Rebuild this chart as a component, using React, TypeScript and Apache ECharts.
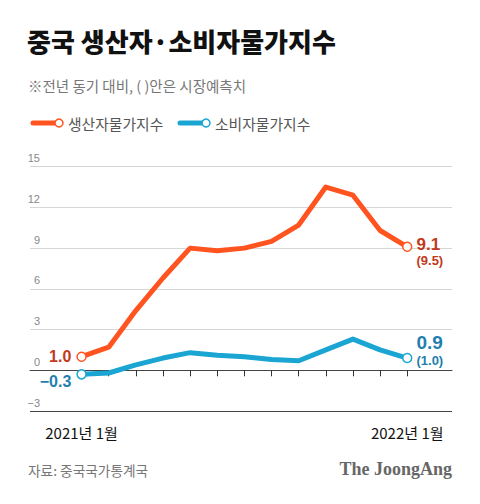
import React, { useEffect, useRef } from "react";
import * as echarts from "echarts";

const months = [0, 1, 2, 3, 4, 5, 6, 7, 8, 9, 10, 11, 12];
const ppi = [1.0, 1.7, 4.4, 6.8, 9.0, 8.8, 9.0, 9.5, 10.7, 13.5, 12.9, 10.3, 9.1];
const cpi = [-0.3, -0.2, 0.4, 0.9, 1.3, 1.1, 1.0, 0.8, 0.7, 1.5, 2.3, 1.5, 0.9];
const ppiForecast = "(9.5)";
const cpiForecast = "(1.0)";
const xTickLabels = ["2021년 1월", "2022년 1월"];
const yTicks = [-3, 0, 3, 6, 9, 12, 15];

const ORANGE = "#FF5420";
const ORANGE_TXT = "#C23A1C";
const BLUE = "#1AA5D3";
const BLUE_TXT = "#1F7FAE";
const KR = '"Noto Sans CJK KR", "Noto Sans", sans-serif';
const NUM = '"Liberation Sans", Arial, sans-serif';

const fmt = (v: number) => (v < 0 ? "\u2212" + Math.abs(v).toFixed(1) : v.toFixed(1));

function buildData(vals: number[], color: string, txt: string, forecast: string, big: boolean, firstOffset: number[], lastOffset: number[]) {
  return vals.map((v, i) => {
    const isFirst = i === 0;
    const isLast = i === vals.length - 1;
    if (!isFirst && !isLast) return { value: [months[i], v], symbol: "none" };
    const item: any = {
      value: [months[i], v],
      symbol: "circle",
      symbolSize: 9,
      itemStyle: { color: "#fff", borderColor: color, borderWidth: 1.5 },
    };
    if (isFirst) {
      item.label = {
        show: true,
        position: "left",
        distance: 5,
        offset: firstOffset,
        formatter: fmt(v),
        fontFamily: NUM,
        fontWeight: "bold",
        fontSize: 16,
        color: txt,
      };
    } else {
      item.label = {
        show: true,
        position: "right",
        distance: 4,
        offset: lastOffset,
        formatter: "{a|" + fmt(v) + "}\n{b|" + forecast + "}",
        rich: {
          a: { fontFamily: NUM, fontWeight: "bold", fontSize: big ? 19 : 17, color: txt, lineHeight: big ? 20 : 17 },
          b: { fontFamily: NUM, fontWeight: "bold", fontSize: 13, color: txt, lineHeight: 15 },
        },
      };
    }
    return item;
  });
}

export default function App() {
  const ref = useRef<HTMLDivElement>(null);
  useEffect(() => {
    if (!ref.current) return;
    const chart = echarts.init(ref.current, null, { renderer: "svg" });
    const option: any = {
      animation: false,
      backgroundColor: "#fff",
      grid: { left: 30, right: 28, top: 166.7, bottom: 93, containLabel: false },
      xAxis: {
        type: "value",
        min: -1.9,
        max: 13.65,
        axisLine: { show: true, lineStyle: { color: "#444", width: 1 } },
        axisTick: { show: true, customValues: months, length: 6, lineStyle: { color: "#333" } },
        axisLabel: {
          show: true,
          customValues: [0, 12],
          formatter: (v: number) => (v === 0 ? xTickLabels[0] : xTickLabels[1]),
          fontFamily: KR,
          fontSize: 15,
          color: "#111",
          margin: 14,
        },
        splitLine: { show: false },
      },
      yAxis: {
        type: "value",
        min: yTicks[0],
        max: yTicks[yTicks.length - 1],
        interval: 3,
        axisLine: { show: false },
        axisTick: { show: false },
        axisLabel: {
          inside: true,
          align: "right",
          verticalAlign: "bottom",
          margin: 10,
          padding: [0, 0, 3, 0],
          fontFamily: NUM,
          fontSize: 11,
          color: "#888",
          formatter: (v: number) => (v < 0 ? "\u2212" + Math.abs(v) : String(v)),
        },
        splitLine: {
          show: true,
          lineStyle: { color: ["#444", "#111", "#d6d6d6", "#d6d6d6", "#d6d6d6", "#d6d6d6", "#d6d6d6"], width: 1 },
        },
      },
      series: [
        {
          type: "line",
          data: buildData(cpi, BLUE, BLUE_TXT, cpiForecast, true, [0, 7], [0, -8]),
          showSymbol: true,
          lineStyle: { color: BLUE, width: 5, join: "round" },
          itemStyle: { color: BLUE },
          z: 2,
        },
        {
          type: "line",
          data: buildData(ppi, ORANGE, ORANGE_TXT, ppiForecast, false, [0, 0], [0, 5]),
          showSymbol: true,
          lineStyle: { color: ORANGE, width: 5, join: "round" },
          itemStyle: { color: ORANGE },
          z: 3,
        },
      ],
      graphic: [
        { type: "text", left: 27, top: 27, style: { text: "중국 생산자·소비자물가지수", fontFamily: KR, fontWeight: 900, fontSize: 26, fill: "#111" } },
        { type: "text", left: 28, top: 78, style: { text: "※전년 동기 대비, ( )안은 시장예측치", fontFamily: KR, fontSize: 14.5, fill: "#777" } },
        { type: "line", shape: { x1: 33, y1: 123, x2: 57, y2: 123 }, style: { stroke: ORANGE, lineWidth: 5, lineCap: "round" } },
        { type: "circle", shape: { cx: 59, cy: 123, r: 4 }, style: { fill: "#fff", stroke: ORANGE, lineWidth: 1.5 } },
        { type: "text", x: 68, y: 123, style: { text: "생산자물가지수", fontFamily: KR, fontSize: 14.8, fill: "#555", verticalAlign: "middle" } },
        { type: "line", shape: { x1: 180, y1: 123, x2: 204, y2: 123 }, style: { stroke: BLUE, lineWidth: 5, lineCap: "round" } },
        { type: "circle", shape: { cx: 206, cy: 123, r: 4 }, style: { fill: "#fff", stroke: BLUE, lineWidth: 1.5 } },
        { type: "text", x: 215, y: 123, style: { text: "소비자물가지수", fontFamily: KR, fontSize: 14.8, fill: "#555", verticalAlign: "middle" } },
        { type: "text", x: 28, y: 470, style: { text: "자료: 중국국가통계국", fontFamily: KR, fontSize: 13.7, fill: "#777", verticalAlign: "middle" } },
        { type: "text", x: 452, y: 469, style: { text: "The JoongAng", fontFamily: '"Liberation Serif", "DejaVu Serif", serif', fontWeight: "bold", fontSize: 18, fill: "#666", align: "right", verticalAlign: "middle" } },
      ],
    };
    chart.setOption(option);
    return () => chart.dispose();
  }, []);
  return <div ref={ref} style={{ position: "fixed", left: 0, top: 0, width: 480, height: 504 }} />;
}
